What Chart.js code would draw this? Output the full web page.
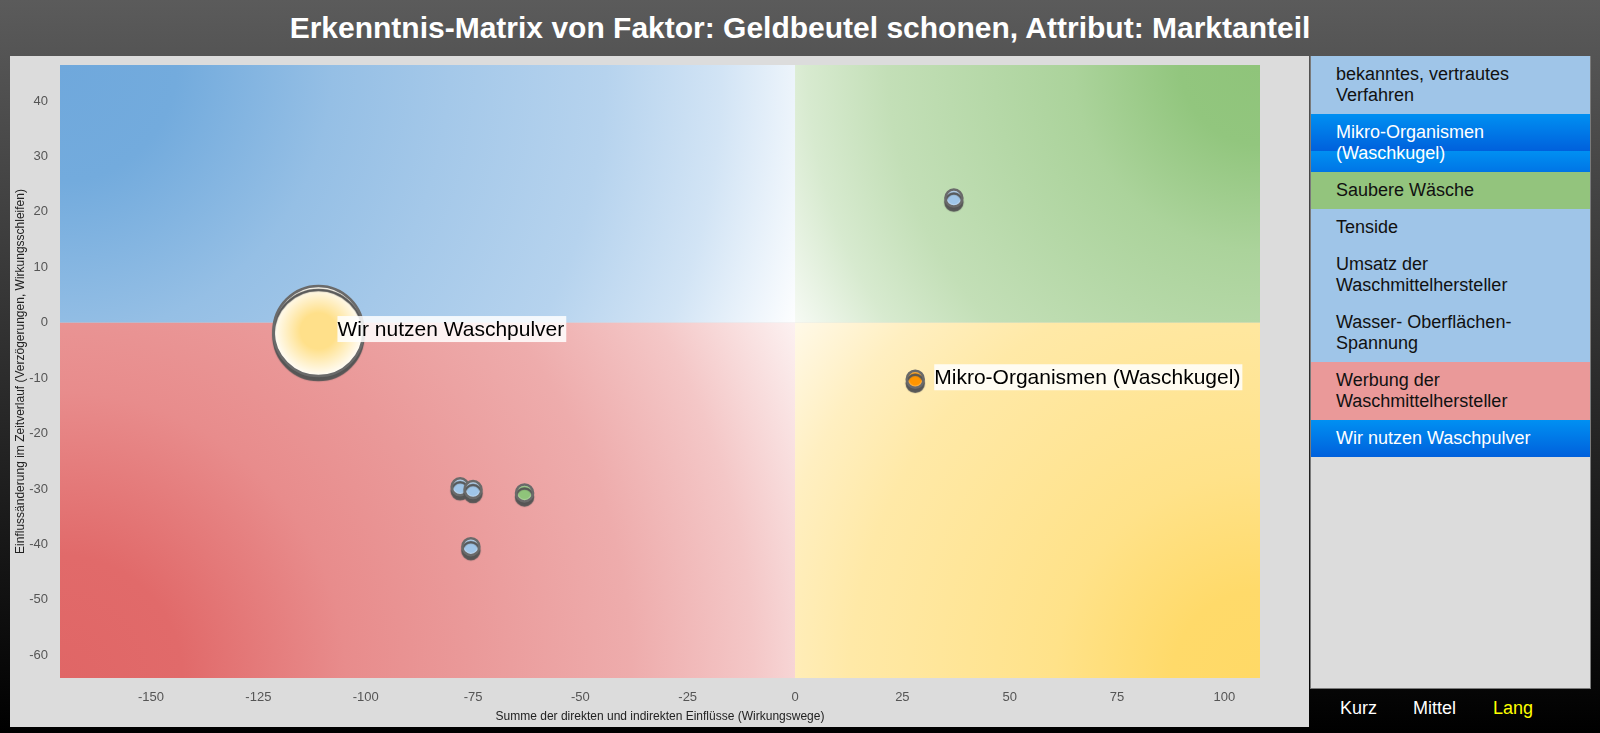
<!DOCTYPE html>
<html lang="de">
<head>
    <meta charset="UTF-8">
    <meta name="viewport" content="width=device-width, initial-scale=1.0">
    <title>Erkenntnis-Matrix</title>
    <script src="https://cdn.jsdelivr.net/npm/chart.js"></script>
    <style>
        html, body { margin: 0; padding: 0; }
        body {
            width: 1600px; height: 733px; overflow: hidden; position: relative;
            background: linear-gradient(to bottom, #5b5b5b 0%, #000 100%);
            font-family: "Liberation Sans", Arial, sans-serif;
        }
        h1 {
            position: absolute; left: 0; top: 0; width: 1600px; height: 56px; margin: 0;
            line-height: 56px; text-align: center; color: #fff; font-size: 30px; font-weight: bold;
        }
        .chart-panel { position: absolute; left: 10px; top: 56px; width: 1299px; height: 671px; background: #dcdcdc; }
        .legend-panel {
            position: absolute; left: 1310px; top: 56px; width: 279px; height: 632px;
            background: #dcdcdc; border: 1px solid #7a7a7a; border-top: none;
        }
        .item { padding: 8px 10px 8px 25px; font-size: 18px; line-height: 21px; color: #111; }
        .item.blue { background: #9fc5e8; }
        .item.green { background: #93c47d; }
        .item.red { background: #ea9999; }
        .item.active {
            color: #fff;
            background: linear-gradient(#0090f2, #0060dc);
            background-size: 100% 37px;
        }
        .btn { position: absolute; top: 697px; font-size: 18px; line-height: 22px; color: #fff; }
        .btn.on { color: #ffff00; }
    </style>
</head>
<body>
    <h1>Erkenntnis-Matrix von Faktor: Geldbeutel schonen, Attribut: Marktanteil</h1>
    <div class="chart-panel"><canvas id="matrixChart"></canvas></div>
    <div class="legend-panel" id="legend"></div>
    <span class="btn" style="left:1340px">Kurz</span>
    <span class="btn" style="left:1413px">Mittel</span>
    <span class="btn on" style="left:1493px">Lang</span>

    <script>
        // Faktoren und ihre Werte
        const factorNames = [
            'bekanntes, vertrautes Verfahren',
            'Mikro-Organismen (Waschkugel)',
            'Saubere Wäsche',
            'Tenside',
            'Umsatz der Waschmittelhersteller',
            'Wasser- Oberflächen-Spannung',
            'Werbung der Waschmittelhersteller',
            'Wir nutzen Waschpulver'
        ];
        const influenceSum = [37, 28, -63, -75, -78, -75.5, null, -111];        // x
        const timeChange = [22.5, -10.2, -30.7, -30.1, -29.6, -40.4, null, -1.5]; // y
        const factorGroup = ['blue', 'active', 'green', 'blue', 'blue', 'blue', 'red', 'active'];
        const labelledFactors = ['Mikro-Organismen (Waschkugel)', 'Wir nutzen Waschpulver'];
        const mainFactor = 'Wir nutzen Waschpulver';

        const xTicks = [-150, -125, -100, -75, -50, -25, 0, 25, 50, 75, 100];
        const yTicks = [-60, -50, -40, -30, -20, -10, 0, 10, 20, 30, 40];
        const xRange = [-171.2, 108.3];
        const yRange = [-64.1, 46.5];

        const xTitle = 'Summe der direkten und indirekten Einflüsse (Wirkungswege)';
        const yTitle = 'Einflussänderung im Zeitverlauf (Verzögerungen, Wirkungsschleifen)';

        // legend list
        const legend = document.getElementById('legend');
        factorNames.forEach((name, i) => {
            const div = document.createElement('div');
            div.className = 'item ' + factorGroup[i];
            div.textContent = name;
            legend.appendChild(div);
        });
        // line breaks like the original
        legend.children[1].innerHTML = 'Mikro-Organismen<br>(Waschkugel)';

        function hex(c) {
            return [parseInt(c.slice(1, 3), 16), parseInt(c.slice(3, 5), 16), parseInt(c.slice(5, 7), 16)];
        }
        function mix(a, b, t) {
            const p = hex(a), q = hex(b);
            return 'rgb(' + p.map((v, k) => Math.round(v + (q[k] - v) * t)).join(',') + ')';
        }

        function pointColors(name) {
            if (name === 'Mikro-Organismen (Waschkugel)') return ['#ff9500', '#ffd08a'];
            if (name === 'Saubere Wäsche') return ['#8fc47a', '#cce4c2'];
            if (name === mainFactor) return ['#ffe08a', '#fffdf8'];
            return ['#9fc5e8', '#dbe9f7'];
        }

        const datasets = [];
        factorNames.forEach((name, i) => {
            if (influenceSum[i] === null) return;
            const big = name === mainFactor;
            const radius = big ? 45 : 8.5;
            const cols = pointColors(name);
            datasets.push({
                label: name,
                data: [{ x: influenceSum[i], y: timeChange[i] }],
                pointRadius: radius,
                pointBorderWidth: big ? 2.5 : 2.5,
                pointBorderColor: '#6a6a6a',
                pointBackgroundColor: (ctx) => {
                    const c = ctx.chart;
                    if (!ctx.raw || !c.chartArea || !c.scales.x) return cols[0];
                    const px = c.scales.x.getPixelForValue(ctx.raw.x);
                    const py = c.scales.y.getPixelForValue(ctx.raw.y);
                    if (!Number.isFinite(px) || !Number.isFinite(py)) return cols[0];
                    const g = c.ctx.createRadialGradient(px, py, 0, px, py, radius);
                    g.addColorStop(0, cols[0]);
                    g.addColorStop(big ? 0.4 : 0.65, cols[0]);
                    g.addColorStop(1, cols[1]);
                    return g;
                }
            });
        });

        // quadrant backgrounds: radial fade from outer corner to the origin
        const fadeStops = [[0, 0], [0.15, 0.03], [0.35, 0.27], [0.5, 0.37], [0.7, 0.5], [0.85, 0.7], [1, 1]];
        const quadrantPlugin = {
            id: 'quadrants',
            beforeDatasetsDraw(chart) {
                const { ctx, chartArea: a, scales } = chart;
                const ox = scales.x.getPixelForValue(0), oy = scales.y.getPixelForValue(0);
                const quads = [
                    [a.left, a.top, '#6fa8dc', '#fdfeff'],
                    [a.right, a.top, '#8fc47a', '#f6faf4'],
                    [a.right, a.bottom, '#ffd966', '#fff9e8'],
                    [a.left, a.bottom, '#e06666', '#fcf1f1']
                ];
                ctx.save();
                quads.forEach(([cx, cy, c1, c2]) => {
                    const r = Math.hypot(ox - cx, oy - cy);
                    const g = ctx.createRadialGradient(cx, cy, 0, cx, cy, r);
                    fadeStops.forEach(([s, t]) => g.addColorStop(s, mix(c1, c2, t)));
                    ctx.fillStyle = g;
                    ctx.fillRect(Math.min(cx, ox), Math.min(cy, oy), Math.abs(ox - cx), Math.abs(oy - cy));
                });
                ctx.restore();
            }
        };

        const shadowPlugin = {
            id: 'shadow',
            beforeDatasetsDraw(chart) {
                const ctx = chart.ctx;
                ctx.save();
                ctx.shadowColor = 'rgba(85,85,85,1)';
                ctx.shadowBlur = 1;
                ctx.shadowOffsetX = 0;
                ctx.shadowOffsetY = 4;
            },
            afterDatasetsDraw(chart) {
                chart.ctx.restore();
            }
        };

        const labelPlugin = {
            id: 'pointLabels',
            afterDatasetsDraw(chart) {
                const ctx = chart.ctx;
                ctx.save();
                ctx.font = '21px "Liberation Sans", Arial, sans-serif';
                ctx.textBaseline = 'middle';
                ctx.textAlign = 'left';
                chart.data.datasets.forEach((ds, i) => {
                    if (!labelledFactors.includes(ds.label)) return;
                    const el = chart.getDatasetMeta(i).data[0];
                    const tx = el.x + 19, ty = el.y - 2;
                    const w = ctx.measureText(ds.label).width;
                    ctx.fillStyle = 'rgba(255,255,255,0.85)';
                    ctx.fillRect(tx, ty - 13, w + 2, 26);
                    ctx.fillStyle = '#000';
                    ctx.fillText(ds.label, tx, ty + 1);
                });
                ctx.restore();
            }
        };

        const font = '"Liberation Sans", Arial, sans-serif';
        new Chart(document.getElementById('matrixChart'), {
            type: 'scatter',
            data: { datasets: datasets },
            options: {
                responsive: true,
                maintainAspectRatio: false,
                animation: false,
                events: [],
                layout: { autoPadding: false, padding: { left: 2, right: 49, top: 9, bottom: 2 } },
                plugins: { legend: { display: false }, tooltip: { enabled: false } },
                scales: {
                    x: {
                        type: 'linear',
                        min: xRange[0], max: xRange[1],
                        afterBuildTicks: (axis) => { axis.ticks = xTicks.map(v => ({ value: v })); },
                        afterFit: (axis) => { axis.height = 47; axis.paddingLeft = 0; axis.paddingRight = 0; },
                        grid: { display: false, drawTicks: false },
                        border: { display: false },
                        ticks: { color: '#555', font: { family: font, size: 13 }, padding: 12, maxRotation: 0 },
                        title: { display: true, text: xTitle, color: '#222', font: { family: font, size: 12 }, padding: { top: 0, bottom: 1 } }
                    },
                    y: {
                        type: 'linear',
                        min: yRange[0], max: yRange[1],
                        afterBuildTicks: (axis) => { axis.ticks = yTicks.map(v => ({ value: v })); },
                        afterFit: (axis) => { axis.width = 48; axis.paddingTop = 0; axis.paddingBottom = 0; },
                        grid: { display: false, drawTicks: false },
                        border: { display: false },
                        ticks: { color: '#555', font: { family: font, size: 13 }, padding: 12 },
                        title: { display: true, text: yTitle, color: '#222', font: { family: font, size: 12 }, padding: { top: 1, bottom: 0 } }
                    }
                }
            },
            plugins: [quadrantPlugin, shadowPlugin, labelPlugin]
        });
    </script>
</body>
</html>
